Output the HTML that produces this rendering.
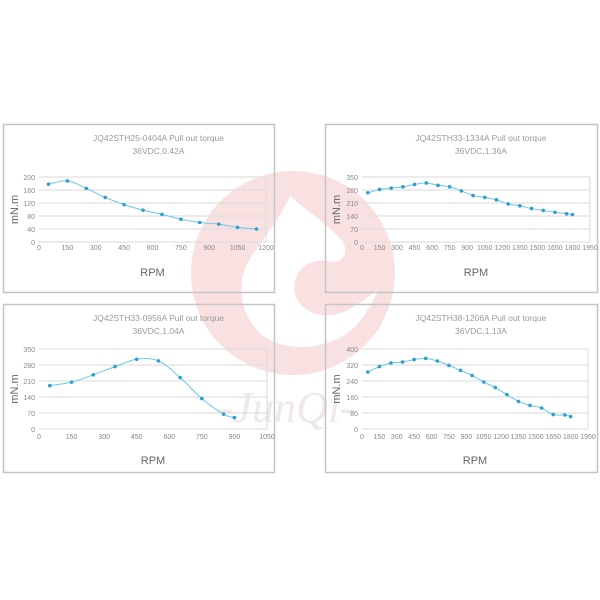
<!DOCTYPE html>
<html><head><meta charset="utf-8"><style>
body{margin:0;background:#fff;width:600px;height:600px;overflow:hidden;font-family:"Liberation Sans",sans-serif}
svg{position:absolute;left:0;top:0}
</style></head><body>
<svg width="600" height="600" id="s">
<g>
<circle cx="293" cy="273" r="102" fill="#f9e1e1"/>
<path d="M290,196 C282,215 262,240 248,262 C236,285 240,315 262,335 C285,352 320,350 345,335 C360,325 372,305 378,290 C362,300 345,318 322,315 C300,312 290,295 296,278 C302,262 320,258 332,262 C345,262 350,250 340,238 C325,222 305,210 290,196 Z" fill="#fff"/>
<text x="218" y="422" font-family="Liberation Serif,serif" font-style="italic" font-size="44" fill="#efe8e8">-JunQi-</text>
</g>
<g id="charts"></g>
</svg>
<script>
const c1x=[50,150,250,350,450,550,650,750,850,950,1050,1150];
const c1y=[178,188,165,137,115,98,85,70,60,55,45,40];
const c2x=[50,150,250,350,450,550,650,750,850,950,1050,1150,1250,1350,1450,1550,1650,1750,1800];
const c2y=[265,283,290,297,310,318,305,297,275,250,240,227,205,195,180,170,160,152,148];
const c3x=[50,150,250,350,450,550,650,750,850,900];
const c3y=[190,205,237,273,305,298,225,133,65,50];
const c4x=[50,150,250,350,450,550,650,750,850,950,1050,1150,1250,1350,1450,1550,1650,1750,1800];
const c4y=[285,312,330,335,347,353,340,318,293,268,235,207,172,138,118,105,72,70,62];
const c1xt=[0,150,300,450,600,750,900,1050,1200];
const c1yt=[0,40,80,120,160,200];
const c2xt=[0,150,300,450,600,750,900,1050,1200,1350,1500,1650,1800,1950];
const c2yt=[0,70,140,210,280,350];
const c3xt=[0,150,300,450,600,750,900,1050];
const c3yt=[0,70,140,210,280,350];
const c4xt=c2xt;
const c4yt=[0,80,160,240,320,400];
const titles=[["JQ42STH25-0404A Pull out torque","36VDC,0.42A"],["JQ42STH33-1334A Pull out torque","36VDC,1.36A"],["JQ42STH33-0956A Pull out torque","36VDC,1.04A"],["JQ42STH38-1206A Pull out torque","36VDC,1.13A"]];
const NS="http://www.w3.org/2000/svg";
const root=document.getElementById('charts');
function mk(t,a,p){const e=document.createElementNS(NS,t);for(const k in a)e.setAttribute(k,a[k]);(p||root).appendChild(e);return e;}
const cfg=[
 {box:[3,124,271,168],pl:[39,177,266,242],xs:c1x,ys:c1y,xt:c1xt,yt:c1yt,ty:138,lx:250,rpm:272},
 {box:[325,124,272,168],pl:[362,177,590,242],xs:c2x,ys:c2y,xt:c2xt,yt:c2yt,ty:138,lx:250,rpm:272},
 {box:[3,304,271,168],pl:[39,349,267,429],xs:c3x,ys:c3y,xt:c3xt,yt:c3yt,ty:318,lx:439,rpm:460},
 {box:[325,304,272,168],pl:[362,349,588,429],xs:c4x,ys:c4y,xt:c4xt,yt:c4yt,ty:318,lx:439,rpm:460}];
cfg.forEach((c,i)=>{
 const g=mk('g',{});
 
 
 const b=mk('rect',{x:c.box[0]+.5,y:c.box[1]+.5,width:c.box[2],height:c.box[3],fill:'none',stroke:'#c4c4c4','stroke-width':1.5},g);
 
 
 const [x0,y0,x1,y1]=c.pl;
 const xmax=c.xt[c.xt.length-1],ymax=c.yt[c.yt.length-1];
 const X=v=>x0+(x1-x0)*v/xmax, Y=v=>y1-(y1-y0)*v/ymax;
 const cx=(c.box[0]+c.box[0]+c.box[2])/2+20;
 titles[i].forEach((t,k)=>{const e=mk('text',{x:cx,y:c.ty+k*13+3,'text-anchor':'middle','font-size':8.5,fill:'#9a9a9a'},g);e.textContent=t;
  
  });
 c.yt.forEach(v=>{mk('line',{x1:x0,x2:x1,y1:Y(v),y2:Y(v),stroke:'#dadada','stroke-width':1},g);
  const e=mk('text',{x:x0-4,y:Y(v)+3,'text-anchor':'end','font-size':7,fill:'#888'},g);e.textContent=v;
  
  });
 mk('line',{x1:x1,x2:x1,y1:y0,y2:y1,stroke:'#dadada'},g);
 c.xt.forEach(v=>{const e=mk('text',{x:X(v),y:c.lx,'text-anchor':'middle','font-size':7,fill:'#888'},g);e.textContent=v;
  
  });
 const r=mk('text',{x:(x0+x1)/2,y:c.rpm+4,'text-anchor':'middle','font-size':11,fill:'#666'},g);r.textContent='RPM';
 
 
 const yy=(y0+y1)/2;
 const ya=mk('text',{x:c.box[0]+15,y:yy,'text-anchor':'middle','font-size':11,fill:'#666',transform:`rotate(-90 ${c.box[0]+15} ${yy})`},g);ya.textContent='mN.m';
 
 
 const P=c.xs.map((v,k)=>[X(v),Y(c.ys[k])]);
 let d='M'+P[0][0]+','+P[0][1];
 for(let k=0;k<P.length-1;k++){const p0=P[Math.max(0,k-1)],p1=P[k],p2=P[k+1],p3=P[Math.min(P.length-1,k+2)];
  d+=` C${p1[0]+(p2[0]-p0[0])/6},${p1[1]+(p2[1]-p0[1])/6} ${p2[0]-(p3[0]-p1[0])/6},${p2[1]-(p3[1]-p1[1])/6} ${p2[0]},${p2[1]}`;}
 const ln=mk('path',{d:d,fill:'none',stroke:'#6cc6ea','stroke-width':1},g);
 
 
 P.forEach(p=>{const m=mk('circle',{cx:p[0],cy:p[1],r:1.8,fill:'#2e9fcf'},g);
  
  });
});
</script>
</body></html>
